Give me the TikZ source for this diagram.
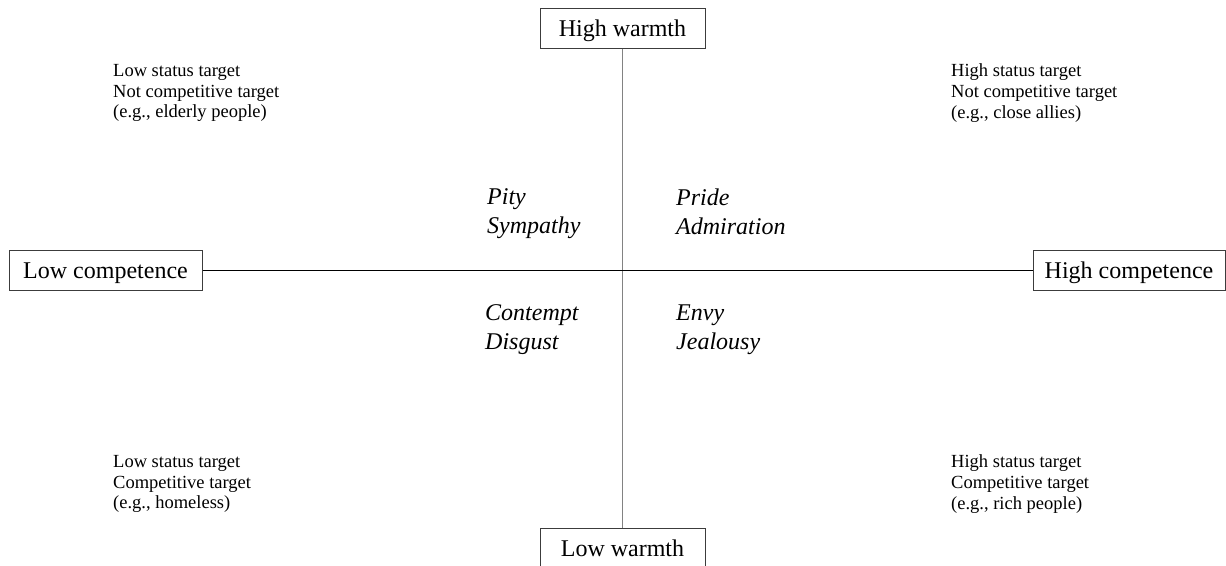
\documentclass[tikz,border=0pt]{standalone}
\usepackage{fontspec}
\setmainfont{Liberation Serif}
\usetikzlibrary{positioning}
\definecolor{boxgray}{RGB}{60, 60, 60}
\definecolor{axisgray}{RGB}{130, 130, 130}

\begin{document}
\begin{tikzpicture}[x=1pt, y=-1pt,
  axisbox/.style={draw=boxgray, line width=1pt, inner sep=0pt, minimum height=40pt,
    text height=17pt, text depth=1pt, font=\fontsize{24}{29}\selectfont},
  quadnote/.style={anchor=west, align=left, inner sep=0pt,
    font=\fontsize{18.5}{20.7}\selectfont},
  emotion/.style={anchor=west, align=left, inner sep=0pt,
    font=\fontsize{24}{29}\selectfont\itshape}]
  \useasboundingbox (0,0) rectangle (1226,565);

  % Achsen-Kästen
  \node[axisbox, minimum width=165pt] (hwarm) at (622.5, 28) {High warmth};
  \node[axisbox, minimum width=165pt] (lwarm) at (622.5, 548) {Low warmth};
  \node[axisbox, minimum width=193pt] (lcomp) at (105.5, 270) {Low competence};
  \node[axisbox, minimum width=192pt] (hcomp) at (1129, 270) {High competence};

  % Achsen
  \draw[axisgray, line width=1.2pt] (hwarm) -- (lwarm);
  \draw[black, line width=1pt] (lcomp) -- (hcomp);

  % Zielgruppen in den Ecken
  \node[quadnote] (tl) at (113, 93) {Low status target\\Not competitive target\\(e.g., elderly people)};
  \node[quadnote] (tr) at (951, 93) {High status target\\Not competitive target\\(e.g., close allies)};
  \node[quadnote] (bl) at (113, 484) {Low status target\\Competitive target\\(e.g., homeless)};
  \node[quadnote] (br) at (951, 484) {High status target\\Competitive target\\(e.g., rich people)};

  % Emotionen
  \node[emotion] (pity) at (487, 214) {Pity\\Sympathy};
  \node[emotion] (pride) at (676, 212) {Pride\\Admiration};
  \node[emotion] (contempt) at (485, 330) {Contempt\\Disgust};
  \node[emotion] (envy) at (676, 330) {Envy\\Jealousy};
\end{tikzpicture}
\end{document}
